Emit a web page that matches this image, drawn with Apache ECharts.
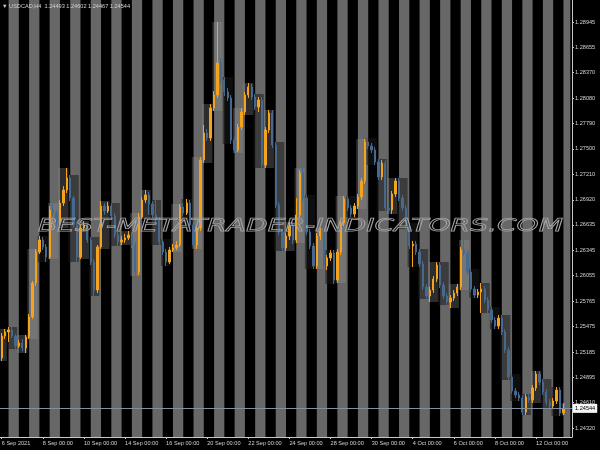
<!DOCTYPE html>
<html><head><meta charset="utf-8">
<script src="https://cdn.jsdelivr.net/npm/echarts@6/dist/echarts.min.js"></script>
<style>html,body{margin:0;padding:0;background:#000}#c{width:600px;height:450px}</style>
</head><body><div id="c"></div>
<script>
const symbolTitle = 'USDCAD,H4';
const headerPrices = ['1.24493', '1.24602', '1.24467', '1.24544'];
const bidPrice = 1.24544;
const watermarkText = 'BEST-METATRADER-INDICATORS.COM';
const tradingDays = ['6 Sep','7 Sep','8 Sep','9 Sep','10 Sep','13 Sep','14 Sep','15 Sep','16 Sep','17 Sep',
  '20 Sep','21 Sep','22 Sep','23 Sep','24 Sep','27 Sep','28 Sep','29 Sep','30 Sep','1 Oct',
  '4 Oct','5 Oct','6 Oct','7 Oct','8 Oct','11 Oct','12 Oct','13 Oct'];
const sessionHours = ['00:00','04:00','08:00','12:00','16:00','20:00'];
const xTickLabels = ['6 Sep 2021','8 Sep 00:00','10 Sep 00:00','14 Sep 00:00','16 Sep 00:00','20 Sep 00:00',
  '22 Sep 00:00','24 Sep 00:00','28 Sep 00:00','30 Sep 00:00','4 Oct 00:00','6 Oct 00:00','8 Oct 00:00','12 Oct 00:00'];
const yTickValues = [1.28945,1.28655,1.28370,1.28080,1.27790,1.27500,1.27210,1.26920,1.26635,
  1.26345,1.26055,1.25765,1.25475,1.25185,1.24895,1.24610,1.24320];
const yMin = 1.24218, yMax = 1.29196;

const opens = [1.25118,1.25368,1.25414,1.25437,1.25368,1.25254,1.25289,1.25232,1.25357,1.25585,
1.25972,1.26325,1.26462,1.26382,1.26268,1.26804,1.26770,1.26667,1.26883,1.27032,
1.27168,1.26940,1.26633,1.26268,1.26599,1.26633,1.26462,1.26211,1.25892,1.26382,
1.26849,1.26792,1.26849,1.26735,1.26519,1.26439,1.26462,1.26485,1.26519,1.26405,
1.26097,1.26724,1.26918,1.26975,1.26872,1.26747,1.26690,1.26439,1.26325,1.26211,
1.26348,1.26371,1.26405,1.26838,1.26770,1.26883,1.26633,1.26405,1.26599,1.27373,
1.27681,1.27624,1.27966,1.28114,1.28478,1.28285,1.28148,1.28080,1.27601,1.27487,
1.27749,1.27920,1.28114,1.28205,1.28091,1.27977,1.28057,1.27316,1.27715,1.27909,
1.27544,1.26861,1.26553,1.26371,1.26507,1.26621,1.26462,1.26747,1.27225,1.26940,
1.26553,1.26394,1.26166,1.26507,1.26564,1.26166,1.26257,1.26314,1.26006,1.26325,
1.26656,1.26929,1.26827,1.26758,1.26849,1.26952,1.27134,1.27578,1.27533,1.27487,
1.27351,1.27180,1.27339,1.26827,1.26804,1.26986,1.27134,1.26940,1.26827,1.26621,
1.26394,1.26416,1.26325,1.26189,1.25927,1.25824,1.25892,1.26018,1.26177,1.25949,
1.25824,1.25756,1.25801,1.25858,1.25927,1.26348,1.26314,1.26097,1.25904,1.25835,
1.25870,1.25904,1.25778,1.25665,1.25551,1.25482,1.25573,1.25414,1.25209,1.24901,
1.24742,1.24696,1.24662,1.24503,1.24673,1.24639,1.24776,1.24935,1.24844,1.24730,
1.24616,1.24571,1.24628,1.24753,1.24493];
const closes = [1.25368,1.25414,1.25437,1.25368,1.25254,1.25289,1.25232,1.25357,1.25585,1.25972,
1.26325,1.26462,1.26382,1.26268,1.26804,1.26770,1.26667,1.26883,1.27032,1.27168,
1.26940,1.26633,1.26268,1.26599,1.26633,1.26462,1.26211,1.25892,1.26382,1.26849,
1.26792,1.26849,1.26735,1.26519,1.26439,1.26462,1.26485,1.26519,1.26405,1.26097,
1.26724,1.26918,1.26975,1.26872,1.26747,1.26690,1.26439,1.26325,1.26211,1.26348,
1.26371,1.26405,1.26838,1.26770,1.26883,1.26633,1.26405,1.26599,1.27373,1.27681,
1.27624,1.27966,1.28114,1.28478,1.28285,1.28148,1.28080,1.27601,1.27487,1.27749,
1.27920,1.28114,1.28205,1.28091,1.27977,1.28057,1.27316,1.27715,1.27909,1.27544,
1.26861,1.26553,1.26371,1.26507,1.26621,1.26462,1.26747,1.27225,1.26940,1.26553,
1.26394,1.26166,1.26507,1.26564,1.26166,1.26257,1.26314,1.26006,1.26325,1.26656,
1.26929,1.26827,1.26758,1.26849,1.26952,1.27134,1.27578,1.27533,1.27487,1.27351,
1.27180,1.27339,1.26827,1.26804,1.26986,1.27134,1.26940,1.26827,1.26621,1.26394,
1.26416,1.26325,1.26189,1.25927,1.25824,1.25892,1.26018,1.26177,1.25949,1.25824,
1.25756,1.25801,1.25858,1.25927,1.26348,1.26314,1.26097,1.25904,1.25835,1.25870,
1.25904,1.25778,1.25665,1.25551,1.25482,1.25573,1.25414,1.25209,1.24901,1.24742,
1.24696,1.24662,1.24503,1.24673,1.24639,1.24776,1.24935,1.24844,1.24730,1.24616,
1.24571,1.24628,1.24753,1.24491,1.24544];
const highs = [1.25402,1.25448,1.25471,1.25471,1.25391,1.25323,1.25334,1.25380,1.25619,1.25995,
1.26359,1.26507,1.26496,1.26416,1.26849,1.26883,1.26804,1.26918,1.27077,1.27282,
1.27202,1.26963,1.26667,1.26633,1.26678,1.26656,1.26496,1.26246,1.26405,1.26906,
1.26883,1.26895,1.26883,1.26770,1.26553,1.26507,1.26530,1.26564,1.26553,1.26439,
1.26770,1.26952,1.27032,1.27009,1.26906,1.26918,1.26724,1.26473,1.26359,1.26382,
1.26416,1.26451,1.26872,1.26883,1.26929,1.26918,1.26667,1.26633,1.27408,1.27772,
1.27727,1.28011,1.28159,1.28945,1.28535,1.28319,1.28194,1.28114,1.27635,1.27783,
1.27966,1.28148,1.28250,1.28239,1.28125,1.28091,1.28091,1.27749,1.27943,1.27943,
1.27578,1.26895,1.26587,1.26542,1.26667,1.26656,1.26940,1.27259,1.27282,1.26975,
1.26587,1.26428,1.26542,1.26599,1.26599,1.26291,1.26348,1.26348,1.26359,1.26690,
1.26963,1.26963,1.26861,1.26883,1.26986,1.27168,1.27613,1.27624,1.27567,1.27521,
1.27385,1.27373,1.27373,1.26872,1.27020,1.27168,1.27168,1.26975,1.26861,1.26656,
1.26451,1.26451,1.26359,1.26223,1.25961,1.25927,1.26052,1.26211,1.26211,1.25983,
1.25858,1.25835,1.25892,1.25961,1.26382,1.26462,1.26348,1.26132,1.25938,1.25904,
1.25972,1.25938,1.25813,1.25699,1.25585,1.25608,1.25608,1.25448,1.25243,1.24935,
1.24776,1.24730,1.24696,1.24708,1.24708,1.24810,1.24970,1.24970,1.24879,1.24765,
1.24651,1.24662,1.24787,1.24787,1.24602];
const lows = [1.25084,1.25334,1.25300,1.25346,1.25220,1.25232,1.25197,1.25175,1.25334,1.25562,
1.25938,1.26302,1.26348,1.26211,1.26246,1.26735,1.26621,1.26599,1.26849,1.26997,
1.26906,1.26599,1.26211,1.26246,1.26564,1.26428,1.26177,1.25824,1.25858,1.26359,
1.26747,1.26770,1.26701,1.26485,1.26394,1.26405,1.26428,1.26462,1.26371,1.26052,
1.26063,1.26701,1.26883,1.26747,1.26713,1.26644,1.26405,1.26291,1.26166,1.26189,
1.26325,1.26348,1.26382,1.26735,1.26747,1.26599,1.26371,1.26359,1.26564,1.27339,
1.27590,1.27590,1.27932,1.28080,1.28239,1.28102,1.28045,1.27556,1.27453,1.27464,
1.27715,1.27886,1.28080,1.28057,1.27943,1.27920,1.27282,1.27282,1.27681,1.27510,
1.26827,1.26519,1.26337,1.26337,1.26462,1.26416,1.26428,1.26713,1.26906,1.26519,
1.26359,1.26132,1.26132,1.26462,1.26132,1.26120,1.26223,1.25961,1.25972,1.26291,
1.26621,1.26792,1.26724,1.26724,1.26815,1.26918,1.27100,1.27499,1.27453,1.27316,
1.27145,1.27145,1.26792,1.26770,1.26758,1.26952,1.26906,1.26792,1.26587,1.26359,
1.26154,1.26291,1.26154,1.25892,1.25790,1.25756,1.25858,1.25983,1.25915,1.25790,
1.25721,1.25687,1.25767,1.25824,1.25892,1.26280,1.26063,1.25870,1.25801,1.25801,
1.25630,1.25744,1.25630,1.25516,1.25448,1.25448,1.25380,1.25175,1.24867,1.24708,
1.24662,1.24628,1.24468,1.24468,1.24605,1.24605,1.24742,1.24810,1.24696,1.24582,
1.24537,1.24537,1.24594,1.24457,1.24467];

// ---- derived structures ----
const categories = [];
tradingDays.forEach(d => sessionHours.forEach(h => categories.push(d + ' ' + h)));
const shownCats = categories.slice(0, 167);
const nCat = shownCats.length;
const candleData = opens.map((o, i) => [o, closes[i], lows[i], highs[i]]);

const stripeData = tradingDays.map((d, k) => [6 * k + 2, Math.min(6 * k + 5, nCat - 1)]).filter(s => s[0] < nCat);

const groups = [[0, 1]];
for (let s = 2; s < opens.length; s += 3) groups.push([s, Math.min(s + 2, opens.length - 1)]);
const boxData = groups.map(([s, e]) => {
  let hi = -Infinity, lo = Infinity;
  for (let i = s; i <= e; i++) { hi = Math.max(hi, highs[i]); lo = Math.min(lo, lows[i]); }
  return [s, e, lo, hi, closes[e] >= opens[s] ? 1 : 0];
});

const BULL = '#f5a21c', BEAR = '#46698f';
const STRIPE = '#676767';
const TXT = '#d2d2d2';
const FONT = 'Liberation Sans';

const wmFont = 'italic 18px "DejaVu Sans"';
const mctx = document.createElement('canvas').getContext('2d');
mctx.font = wmFont;
const wmScale = 525 / mctx.measureText(watermarkText).width;

const chart = echarts.init(document.getElementById('c'), null, { renderer: 'canvas' });
chart.setOption({
  backgroundColor: '#000',
  animation: false,
  grid: { left: 0, right: 28, top: 0, bottom: 13, outerBoundsMode: 'none' },
  xAxis: {
    type: 'category', data: shownCats, boundaryGap: true,
    axisLine: { show: true, lineStyle: { color: '#c8c8c8', width: 1 } },
    axisTick: { show: true, interval: 11, alignWithLabel: true, length: 2, lineStyle: { color: '#c8c8c8' } },
    axisLabel: {
      interval: 11, align: 'left', color: TXT, fontSize: 5.6, fontFamily: FONT, margin: 3,
      formatter: (v, i) => xTickLabels[Math.round(i / 12)] || ''
    },
    splitLine: { show: false }
  },
  yAxis: {
    type: 'value', position: 'right', min: yMin, max: yMax,
    axisLine: { show: true, lineStyle: { color: '#c8c8c8', width: 1 } },
    axisTick: { show: true, customValues: yTickValues, length: 2, lineStyle: { color: '#c8c8c8' } },
    axisLabel: { customValues: yTickValues, formatter: v => v.toFixed(5), color: TXT, fontSize: 5.6, fontFamily: FONT, margin: 3 },
    splitLine: { show: false }
  },
  graphic: [
    { type: 'text', x: 2, y: 3, z: 20,
      style: { text: '\u25BC ' + symbolTitle + '  ' + headerPrices.join(' '), fill: TXT, font: '5.6px "Liberation Sans"' } },
    { type: 'text', x: 38, y: 226, scaleX: wmScale, z: 20, silent: true,
      style: { text: watermarkText, font: wmFont, fill: 'rgba(0,0,0,0)', stroke: '#a4a4a4', lineWidth: 0.75, verticalAlign: 'middle' } }
  ],
  series: [
    {
      type: 'custom', name: 'stripes', z: 0, silent: true, clip: true,
      data: stripeData, encode: { x: [0, 1] },
      renderItem: (params, api) => {
        const x1 = api.coord([api.value(0), yMax])[0];
        const x2 = api.coord([api.value(1), yMax])[0];
        const cs = params.coordSys;
        return { type: 'rect', shape: { x: x1, y: cs.y, width: x2 - x1, height: cs.height }, style: { fill: STRIPE } };
      }
    },
    {
      type: 'custom', name: 'boxes', z: 1, silent: true, clip: true,
      data: boxData, encode: { x: [0, 1], y: [2, 3] },
      renderItem: (params, api) => {
        const bw = api.size([1, 0])[0];
        const p1 = api.coord([api.value(0), api.value(3)]);
        const p2 = api.coord([api.value(1), api.value(2)]);
        return { type: 'rect', shape: { x: p1[0] - bw / 2, y: p1[1], width: p2[0] - p1[0] + bw, height: p2[1] - p1[1] },
          style: { fill: api.value(4) ? 'rgba(150,150,150,0.30)' : 'rgba(25,25,25,0.55)' } };
      }
    },
    {
      type: 'candlestick', name: symbolTitle, z: 3, barWidth: 1.8,
      data: candleData,
      itemStyle: { color: BULL, color0: BEAR, borderColor: BULL, borderColor0: BEAR, borderWidth: 1 },
      markLine: {
        silent: true, symbol: 'none', animation: false, precision: 5,
        lineStyle: { color: '#7f8fa4', width: 1, type: 'solid' },
        label: { show: true, position: 'end', distance: 1, formatter: bidPrice.toFixed(5), color: '#000',
          backgroundColor: '#f4f4f4', fontSize: 5.6, fontFamily: FONT, padding: [2, 2, 1, 2] },
        data: [{ yAxis: bidPrice }]
      }
    }
  ]
});
</script>
</body></html>
